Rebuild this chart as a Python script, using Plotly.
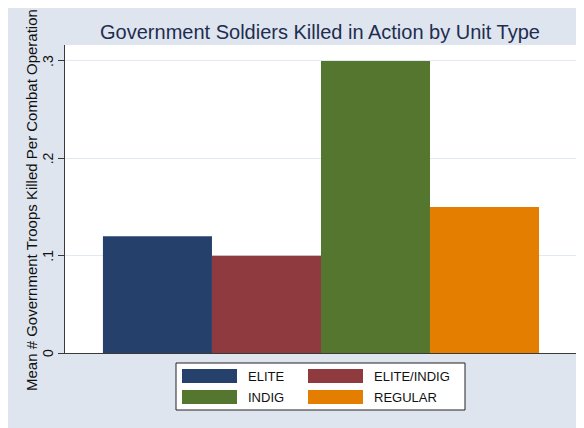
import plotly.graph_objects as go

categories = ["ELITE", "ELITE/INDIG", "INDIG", "REGULAR"]
values = [0.12, 0.10, 0.30, 0.15]
colors = ["#26406C", "#8E3A3E", "#55762F", "#E37E00"]
tick_vals = [0, 0.1, 0.2, 0.3]
tick_text = ["0", ".1", ".2", ".3"]

title_text = "Government Soldiers Killed in Action by Unit Type"
ytitle_text = "Mean # Government Troops Killed Per Combat Operation"

OFF = 8  # page body offset
W, H = 576, 420
L, R, T, B = 57, 8, 37, 75
pw = W - L - R
ph = H - T - B


def px(x):
    return (x - OFF - L) / pw


def py(y):
    return (H - B - (y - OFF)) / ph


BG = "#DEE5EF"
FONT = "Liberation Sans, Arial, sans-serif"

fig = go.Figure()
fig.add_trace(go.Bar(
    x=list(range(len(categories))),
    y=values,
    width=1.0,
    marker=dict(color=colors, line=dict(width=0)),
    showlegend=False,
    hoverinfo="skip",
))

shapes = []
annotations = []

# legend box
shapes.append(dict(type="rect", xref="paper", yref="paper", x0=px(176), x1=px(465),
                   y0=py(410), y1=py(363), fillcolor="white",
                   line=dict(color="#222222", width=1)))
col_x = [182, 308]
row_y = [369, 390]
for i, (cat, col) in enumerate(zip(categories, colors)):
    r, c = divmod(i, 2)
    x0 = col_x[c]
    y0 = row_y[r]
    shapes.append(dict(type="rect", xref="paper", yref="paper", x0=px(x0), x1=px(x0 + 55),
                       y0=py(y0 + 14), y1=py(y0), fillcolor=col, line=dict(width=0)))
    annotations.append(dict(xref="paper", yref="paper", x=px(x0 + 64), y=py(y0 + 7.5),
                            text=cat, showarrow=False, xanchor="left", yanchor="middle",
                            font=dict(family=FONT, size=13, color="#111111")))

# y tick labels (rotated, as in the original)
for tv, tt in zip(tick_vals, tick_text):
    annotations.append(dict(xref="paper", yref="y", x=px(48), y=tv, text=tt,
                            textangle=-90, showarrow=False, xanchor="center",
                            yanchor="middle",
                            font=dict(family=FONT, size=14, color="#111111")))

# y-axis title
annotations.append(dict(xref="paper", yref="paper", x=px(31), y=py(200),
                        text=ytitle_text, textangle=-90, showarrow=False,
                        xanchor="center", yanchor="middle",
                        font=dict(family=FONT, size=15, color="#111111")))

fig.update_layout(
    width=W, height=H,
    margin=dict(l=L, r=R, t=T, b=B, pad=0),
    paper_bgcolor=BG,
    plot_bgcolor="white",
    title=dict(text=title_text, x=px(320), xref="paper", xanchor="center",
               y=1 - (31.5 - OFF) / H, yref="container", yanchor="middle",
               font=dict(family=FONT, size=20, color="#1F2D50")),
    shapes=shapes,
    annotations=annotations,
    showlegend=False,
    xaxis=dict(range=[-0.848, 3.839], showticklabels=False, ticks="",
               showgrid=False, zeroline=False, showline=True,
               linecolor="#3A3A3A", linewidth=1, fixedrange=True),
    yaxis=dict(range=[0, 0.3164], tickvals=tick_vals, showticklabels=False,
               ticks="outside", ticklen=6, tickwidth=1,
               tickcolor="#3A3A3A", showline=True, linecolor="#3A3A3A",
               linewidth=1, showgrid=True, gridcolor="#E2E9F1", gridwidth=1,
               zeroline=False, automargin=False),
)

fig.write_html("out.html")
